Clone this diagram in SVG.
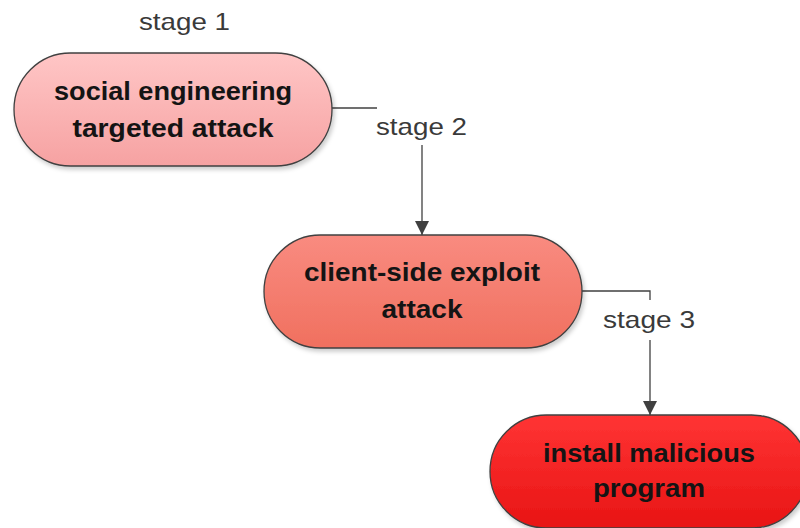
<svg xmlns="http://www.w3.org/2000/svg" width="800" height="528" viewBox="0 0 800 528">
<style>
.node{stroke:#404040;stroke-width:1.3}
.t{font-family:"Liberation Sans",Arial,sans-serif;font-weight:bold;font-size:26px;fill:#141414;text-anchor:middle}
.lbl{font-family:"Liberation Sans",Arial,sans-serif;font-size:24px;fill:#3a3a3a}
.wire{fill:none;stroke:#404040;stroke-width:1.3}
</style>
<defs>
<linearGradient id="g1" x1="0" y1="0" x2="0" y2="1"><stop offset="0" stop-color="#ffc6c6"/><stop offset="1" stop-color="#f6a2a2"/></linearGradient>
<linearGradient id="g2" x1="0" y1="0" x2="0" y2="1"><stop offset="0" stop-color="#f98b80"/><stop offset="1" stop-color="#f0705f"/></linearGradient>
<linearGradient id="g3" x1="0" y1="0" x2="0" y2="1"><stop offset="0" stop-color="#ff3434"/><stop offset="1" stop-color="#e81414"/></linearGradient>
<filter id="sh" x="-10%" y="-10%" width="130%" height="140%"><feDropShadow dx="2" dy="3" stdDeviation="2" flood-color="#000" flood-opacity="0.2"/></filter>
<marker id="arr" viewBox="0 0 14 14" refX="14" refY="7" markerWidth="14" markerHeight="14" markerUnits="userSpaceOnUse" orient="auto"><path d="M0,0 L14,7 L0,14 Z" fill="#404040"/></marker>
</defs>
<g id="connectors">
<path class="wire" d="M332,108 H377"/>
<path class="wire" d="M422,145 V235" marker-end="url(#arr)"/>
<path class="wire" d="M582,291 H650 V300"/>
<path class="wire" d="M650,340 V415" marker-end="url(#arr)"/>
</g>
<g id="labels">
<text class="lbl" x="139" y="30" textLength="91" lengthAdjust="spacingAndGlyphs">stage 1</text>
<text class="lbl" x="376" y="135" textLength="91" lengthAdjust="spacingAndGlyphs">stage 2</text>
<text class="lbl" x="603" y="328" textLength="92" lengthAdjust="spacingAndGlyphs">stage 3</text>
</g>
<g id="node1">
<rect class="node" x="14" y="53" width="318" height="113" rx="56.5" fill="url(#g1)" filter="url(#sh)"/>
<text class="t" x="173" y="100" textLength="238" lengthAdjust="spacingAndGlyphs">social engineering</text>
<text class="t" x="173" y="137" textLength="201" lengthAdjust="spacingAndGlyphs">targeted attack</text>
</g>
<g id="node2">
<rect class="node" x="264" y="235" width="318" height="113" rx="56.5" fill="url(#g2)" filter="url(#sh)"/>
<text class="t" x="422" y="281" textLength="236" lengthAdjust="spacingAndGlyphs">client-side exploit</text>
<text class="t" x="422" y="318" textLength="81" lengthAdjust="spacingAndGlyphs">attack</text>
</g>
<g id="node3">
<rect class="node" x="490" y="415" width="318" height="113" rx="56.5" fill="url(#g3)" filter="url(#sh)"/>
<text class="t" x="649" y="462" textLength="212" lengthAdjust="spacingAndGlyphs">install malicious</text>
<text class="t" x="649" y="497" textLength="112" lengthAdjust="spacingAndGlyphs">program</text>
</g>
</svg>
